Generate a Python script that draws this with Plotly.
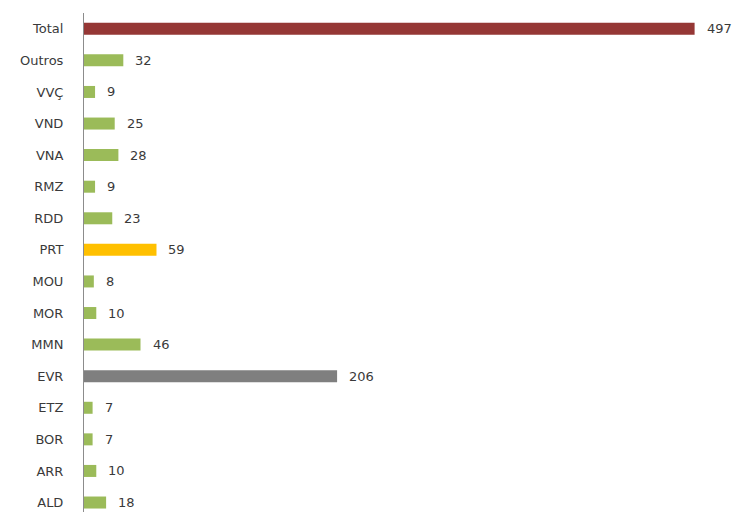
import plotly.graph_objects as go

# Categories listed bottom-to-top
categories = ["ALD", "ARR", "BOR", "ETZ", "EVR", "MMN", "MOR", "MOU",
              "PRT", "RDD", "RMZ", "VNA", "VND", "VVÇ", "Outros", "Total"]
values = [18, 10, 7, 7, 206, 46, 10, 8, 59, 23, 9, 28, 25, 9, 32, 497]

GREEN = "#9BBB59"
highlight = {"Total": "#953735", "EVR": "#7F7F7F", "PRT": "#FFC000"}
colors = [highlight.get(c, GREEN) for c in categories]

FONT = "'DejaVu Sans', Lato, sans-serif"
TEXT = "#3a3a3a"

fig = go.Figure(go.Bar(
    y=categories, x=values, orientation="h",
    marker=dict(color=colors, line=dict(width=0)),
    hoverinfo="skip",
))

for c, v in zip(categories, values):
    fig.add_annotation(x=v, y=c, text=str(v), showarrow=False,
                       xanchor="left", xshift=10,
                       font=dict(family=FONT, size=13, color=TEXT))

fig.update_layout(
    width=734, height=512,
    margin=dict(l=84, r=5, t=13, b=0),
    paper_bgcolor="white", plot_bgcolor="white",
    bargap=0.62,
    showlegend=False,
    font=dict(family=FONT, size=13, color=TEXT),
)
fig.update_xaxes(range=[0, 525], visible=False, showgrid=False, zeroline=False)
fig.update_yaxes(
    range=[-0.30, 15.5], showgrid=False, zeroline=False,
    showline=True, linecolor="#8c8c8c", linewidth=1,
    ticks="", ticklabelstandoff=17,
    tickfont=dict(family=FONT, size=13, color=TEXT),
)

fig.write_html("out.html")
